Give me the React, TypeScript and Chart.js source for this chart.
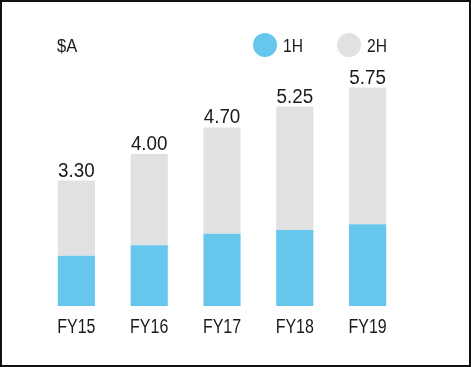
import React, { useEffect, useRef } from "react";
import { Chart, registerables } from "chart.js";

Chart.register(...registerables);

const categories = ["FY15", "FY16", "FY17", "FY18", "FY19"];
const firstHalf = [1.32, 1.6, 1.9, 2.0, 2.15];
const secondHalf = [1.98, 2.4, 2.8, 3.25, 3.6];
const seriesNames = ["1H", "2H"];
const unitLabel = "$A";
const yMax = 6.5;

const FONT = '"Liberation Sans", Arial, sans-serif';
const TEXT = "#1a1a1a";
const BLUE = "#66c6ec";
const GREY = "#e0e1e3";

function drawText(ctx: CanvasRenderingContext2D, text: string, x: number, y: number, size: number, sx: number, align: CanvasTextAlign) {
  ctx.save();
  ctx.translate(x, y);
  ctx.scale(sx, 1);
  ctx.font = `${size}px ${FONT}`;
  ctx.textAlign = align;
  ctx.textBaseline = "alphabetic";
  ctx.fillStyle = TEXT;
  ctx.fillText(text, 0, 0);
  ctx.restore();
}

const overlayPlugin = {
  id: "overlay",
  afterDatasetsDraw(chart: any) {
    const ctx = chart.ctx as CanvasRenderingContext2D;
    const area = chart.chartArea;
    const xScale = chart.scales.x;
    const meta = chart.getDatasetMeta(1);

    // totals above the bars
    meta.data.forEach((bar: any, i: number) => {
      const total = firstHalf[i] + secondHalf[i];
      drawText(ctx, total.toFixed(2), bar.x, bar.y - 4, 20, 0.94, "center");
    });

    // category labels
    categories.forEach((c, i) => {
      drawText(ctx, c, xScale.getPixelForValue(i), area.bottom + 27, 20, 0.8, "center");
    });

    // unit label
    const legendY = 43;
    drawText(ctx, unitLabel, area.left + 17, legendY + 7, 19, 0.87, "left");

    // legend
    const starts = [251, 335];
    chart.data.datasets.forEach((ds: any, i: number) => {
      const x = starts[i];
      ctx.save();
      ctx.beginPath();
      ctx.fillStyle = ds.backgroundColor;
      ctx.arc(x + 12, legendY, 12, 0, Math.PI * 2);
      ctx.fill();
      ctx.restore();
      drawText(ctx, ds.label, x + 30, legendY + 7, 19, 0.82, "left");
    });
  },
};

export default function App() {
  const ref = useRef<HTMLCanvasElement>(null);

  useEffect(() => {
    if (!ref.current) return;
    const chart = new Chart(ref.current, {
      type: "bar",
      data: {
        labels: categories,
        datasets: [
          {
            label: seriesNames[0],
            data: firstHalf,
            backgroundColor: BLUE,
            categoryPercentage: 1,
            barPercentage: 0.51,
          },
          {
            label: seriesNames[1],
            data: secondHalf,
            backgroundColor: GREY,
            categoryPercentage: 1,
            barPercentage: 0.51,
          },
        ],
      },
      options: {
        animation: false,
        responsive: true,
        maintainAspectRatio: false,
        layout: { padding: { left: 38, right: 65, top: 57, bottom: 59 } },
        plugins: {
          legend: { display: false },
          tooltip: { enabled: false },
        },
        scales: {
          x: { stacked: true, display: false },
          y: { stacked: true, display: false, min: 0, max: yMax },
        },
      },
      plugins: [overlayPlugin],
    } as any);
    return () => chart.destroy();
  }, []);

  return (
    <div
      style={{
        position: "fixed",
        left: 0,
        top: 0,
        width: 471,
        height: 367,
        boxSizing: "border-box",
        border: "2px solid #111",
        background: "#fff",
      }}
    >
      <canvas ref={ref} />
    </div>
  );
}
